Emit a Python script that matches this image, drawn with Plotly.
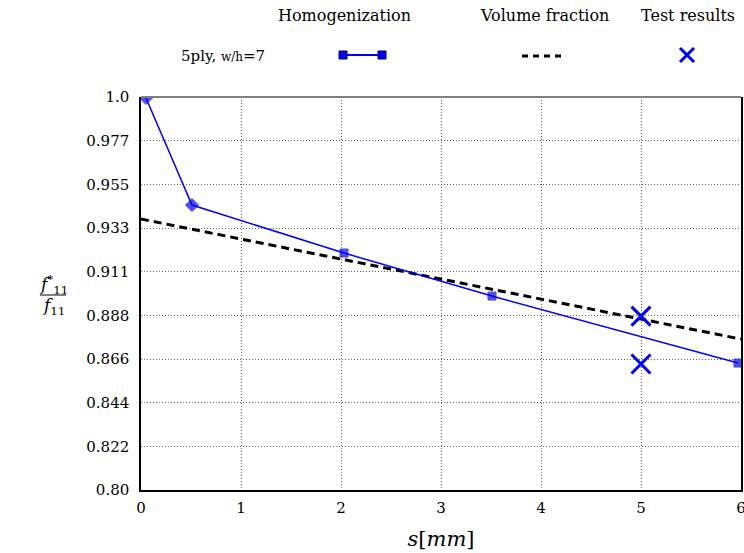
import plotly.graph_objects as go

# values
s_homog = [0.05, 0.51, 2.03, 3.51, 5.97]
f_homog = [0.9995, 0.945, 0.9206, 0.8987, 0.8646]
s_volfrac = [0.0, 6.0]
f_volfrac = [0.9379, 0.8768]
s_test = [5.0, 5.0]
f_test = [0.8885, 0.8641]

x_ticks = [0, 1, 2, 3, 4, 5, 6]
y_ticks = [0.8 + k * 0.2 / 9 for k in range(10)]
y_ticktext = ["0.80", "0.822", "0.844", "0.866", "0.888",
              "0.911", "0.933", "0.955", "0.977", "1.0"]

BLUE = "#0000ff"
FONT = "DejaVu Serif"

W, H = 744, 553
# plot box in page pixels
L, R, T, B = 141, 741, 97, 490


def px(x):
    return (x - L) / (R - L)


def py(y):
    return (B - y) / (B - T)


fig = go.Figure()
fig.add_trace(
    go.Scatter(
        x=s_volfrac,
        y=f_volfrac,
        mode="lines",
        line=dict(color="black", width=3, dash="8px,5px"),
        showlegend=False,
    )
)
fig.add_trace(
    go.Scatter(
        x=s_homog,
        y=f_homog,
        mode="lines+markers",
        line=dict(color=BLUE, width=1.5),
        marker=dict(symbol=["diamond", "diamond", "square", "square", "square"],
                    size=[10, 10, 8, 8, 8], color=BLUE,
                    line=dict(color="#0000c0", width=1)),
        showlegend=False,
    )
)
fig.add_trace(
    go.Scatter(
        x=s_test,
        y=f_test,
        mode="markers",
        marker=dict(symbol="x-thin", size=19, line=dict(color=BLUE, width=3)),
        showlegend=False,
    )
)

# legend drawn as a little table above the plot
shapes = [
    dict(type="line", xref="paper", yref="paper", x0=0, x1=1, y0=1, y1=1,
         line=dict(color="#808080", width=2)),
    dict(type="line", xref="paper", yref="paper", x0=px(343), x1=px(382),
         y0=py(55), y1=py(55), line=dict(color=BLUE, width=2)),
    dict(type="rect", xref="paper", yref="paper", x0=px(339), x1=px(347),
         y0=py(51), y1=py(59), fillcolor=BLUE, line=dict(color="#000060", width=1)),
    dict(type="rect", xref="paper", yref="paper", x0=px(378), x1=px(386),
         y0=py(51), y1=py(59), fillcolor=BLUE, line=dict(color="#000060", width=1)),
    dict(type="line", xref="paper", yref="paper", x0=px(522), x1=px(562),
         y0=py(56), y1=py(56), line=dict(color="black", width=3, dash="6px,5px")),
    dict(type="line", xref="paper", yref="paper", x0=px(680), x1=px(694),
         y0=py(48), y1=py(62), line=dict(color=BLUE, width=3)),
    dict(type="line", xref="paper", yref="paper", x0=px(680), x1=px(694),
         y0=py(62), y1=py(48), line=dict(color=BLUE, width=3)),
    # fraction bar of the y title
    dict(type="line", xref="paper", yref="paper", x0=px(40), x1=px(66),
         y0=py(295), y1=py(295), line=dict(color="black", width=1)),
]

annotations = [
    dict(text="Homogenization", x=px(344), y=py(15)),
    dict(text="Volume fraction", x=px(544), y=py(15)),
    dict(text="Test results", x=px(688), y=py(15)),
    dict(text="5ply, <span style='font-size:12px'>w/h</span>=7", x=px(223), y=py(56),
         font=dict(size=15)),
    dict(text="<i>f</i><sup>*</sup><sub>11</sub>", x=px(53), y=py(284),
         font=dict(size=17)),
    dict(text="<i>f</i><sub>11</sub>", x=px(53), y=py(306), font=dict(size=17)),
]
for a in annotations:
    a.update(xref="paper", yref="paper", showarrow=False,
             xanchor="center", yanchor="middle")
    a.setdefault("font", dict(size=16))

grid = dict(showgrid=True, gridcolor="#606060", griddash="1px,2px", gridwidth=1)

fig.update_layout(
    width=W,
    height=H,
    margin=dict(l=L, r=W - R, t=T, b=H - B),
    paper_bgcolor="white",
    plot_bgcolor="white",
    font=dict(family=FONT, size=16, color="black"),
    shapes=shapes,
    annotations=annotations,
    xaxis=dict(
        range=[0, 6],
        tickvals=x_ticks,
        showline=True,
        linecolor="black",
        linewidth=1.5,
        zeroline=False,
        ticks="",
        automargin=False,
        ticklabeloverflow="allow",
        ticklabelstandoff=3,
        tickfont=dict(size=15),
        title=dict(text="<i>s</i>[<i>mm</i>]", font=dict(size=21), standoff=16),
        **grid,
    ),
    yaxis=dict(
        range=[0.8, 1.0],
        tickvals=y_ticks,
        ticktext=y_ticktext,
        showline=True,
        linecolor="black",
        linewidth=1.5,
        mirror=True,
        zeroline=False,
        ticks="",
        automargin=False,
        ticklabelstandoff=7,
        tickfont=dict(size=15),
        **grid,
    ),
)

# drop the default body margin so the 744x553 figure fills the window exactly
fig.write_html(
    "out.html",
    config={"displayModeBar": False},
    post_script="document.body.style.margin='0px';document.body.style.overflow='hidden';",
)
